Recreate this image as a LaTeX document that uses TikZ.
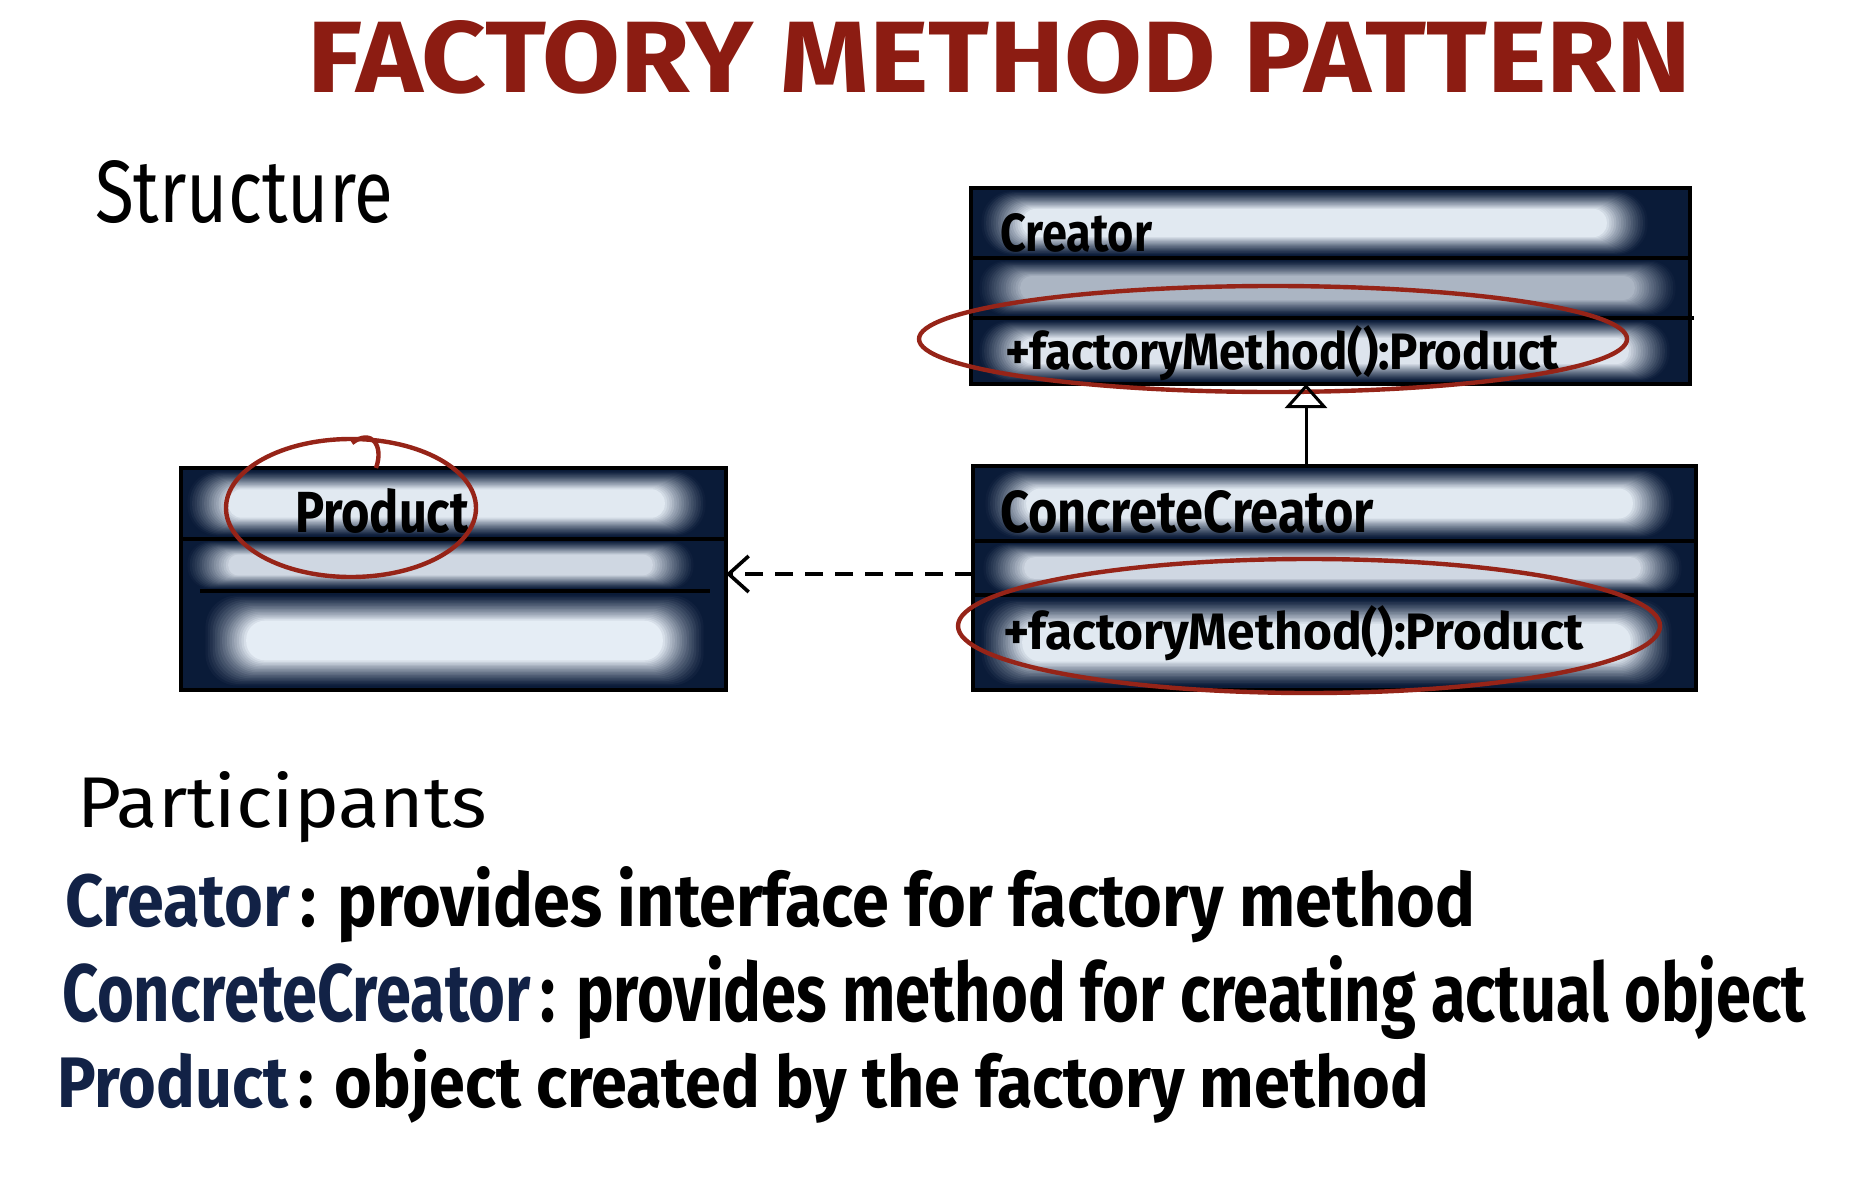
\documentclass[tikz,border=0pt]{standalone}
\usepackage{fontspec}
\setmainfont{Fira Sans}
\usetikzlibrary{arrows.meta}
\definecolor{titlered}{RGB}{140,28,18}
\definecolor{inkred}{RGB}{150,36,24}
\definecolor{boxnavy}{RGB}{10,27,56}
\definecolor{glow}{RGB}{234,241,249}
\definecolor{namenavy}{RGB}{18,34,70}
% #1 left #2 top #3 right #4 bottom #5 max percent #6 left inset #7 right inset
\newcommand\glowrow[7]{%
  \foreach \k in {0,...,18}{%
    \pgfmathtruncatemacro\pc{#5*(\k/18)^1.2}%
    \pgfmathsetmacro\hh{#4-#2}%
    \pgfmathsetmacro\vi{\hh*(0.03+0.015*\k)}%
    \pgfmathsetmacro\li{#6+2.4*\k}%
    \pgfmathsetmacro\ri{#7+2.4*\k}%
    \pgfmathsetmacro\rc{min(16,(\hh-2*\vi)/4*0.95)}%
    \fill[glow!\pc!boxnavy, rounded corners=\rc pt] (#1+\li,#2+\vi) rectangle (#3-\ri,#4-\vi);
  }}
\begin{document}
\begin{tikzpicture}[x=0.5pt,y=-0.5pt,
  txt/.style={anchor=base west, inner sep=0pt, outer sep=0pt},
  umlbox/.style={rectangle, fill=boxnavy, inner sep=0pt, outer sep=0pt, anchor=north west},
  outline/.style={draw=black, line width=1.6pt},
  divider/.style={draw=black, line width=1.6pt},
  redink/.style={draw=inkred, line width=2.2pt},
  inherit/.style={draw=black, line width=1.5pt, -{Triangle[open, width=21pt, length=12pt, line width=1.5pt]}},
  depend/.style={draw=black, line width=1.6pt, dash pattern=on 9pt off 6pt, -{Straight Barb[width=18pt, length=10pt, line width=1.8pt]}}]
\useasboundingbox (0,0) rectangle (1866,1198);
\fill[white] (0,0) rectangle (1866,1198);

% title and headings
\node[txt, text=titlered] (title) at (307,93) {\resizebox{692pt}{36pt}{\bfseries FACTORY METHOD PATTERN}};
\node[txt] (structure) at (95,222) {\resizebox{149pt}{31pt}{Structure}};

% Creator box
\node[umlbox, minimum width=359.5pt, minimum height=98pt] (creator) at (971,188) {};
\glowrow{971}{188}{1690}{258}{96}{8}{40}
\glowrow{971}{258}{1690}{318}{72}{6}{12}
\glowrow{971}{318}{1690}{384}{94}{6}{18}
\draw[divider] (971,258) -- (1690,258);
\draw[divider] (971,318) -- (1694,318);
\draw[outline] (creator.north west) rectangle (creator.south east);
\node[txt] (creatorname) at (1000,252) {\resizebox{76pt}{19pt}{\bfseries Creator}};
\node[txt] (creatorop) at (1005,369) {\resizebox{277pt}{22pt}{\bfseries +factoryMethod():Product}};

% ConcreteCreator box
\node[umlbox, minimum width=361.5pt, minimum height=112pt] (concrete) at (973,466) {};
\glowrow{973}{466}{1696}{541}{96}{10}{20}
\glowrow{973}{541}{1696}{595}{88}{8}{12}
\glowrow{973}{595}{1696}{690}{96}{6}{22}
\draw[divider] (973,541) -- (1696,541);
\draw[divider] (973,595) -- (1696,595);
\draw[outline] (concrete.north west) rectangle (concrete.south east);
\node[txt] (concretename) at (1000,532) {\resizebox{187pt}{21pt}{\bfseries ConcreteCreator}};
\node[txt] (concreteop) at (1003,649) {\resizebox{290pt}{22pt}{\bfseries +factoryMethod():Product}};

% Product box
\node[umlbox, minimum width=272.5pt, minimum height=111pt] (product) at (181,468) {};
\glowrow{181}{468}{726}{539}{96}{4}{18}
\glowrow{181}{539}{726}{591}{88}{4}{30}
\glowrow{181}{591}{726}{690}{98}{22}{20}
\draw[divider] (181,539) -- (726,539);
\draw[divider] (200,591) -- (710,591);
\draw[outline] (product.north west) rectangle (product.south east);
\node[txt] (productname) at (295,532) {\resizebox{87pt}{22pt}{\bfseries Product}};

% red highlight ellipses
\draw[redink] (1273,339) ellipse [x radius=354, y radius=53];
\draw[redink] (1309,626) ellipse [x radius=351, y radius=67];
\draw[redink] (351,508) ellipse [x radius=125, y radius=69];
\draw[redink] (352,443) .. controls (372,428) and (384,446) .. (376,468);

% connectors
\coordinate (ax) at (1306,0);
\coordinate (dy) at (0,574);
\draw[inherit] (ax |- concrete.north) -- (ax |- creator.south);
\draw[depend] (dy -| concrete.west) -- (dy -| product.east);

% participants
\node[txt] (participants) at (77,827) {\resizebox{205pt}{28pt}{Participants}};
\node[txt] (line1) at (65,926) {\resizebox{705pt}{30pt}{\bfseries\textcolor{namenavy}{Creator}\,: provides interface for factory method}};
\node[txt] (line2) at (62,1021) {\resizebox{872pt}{33pt}{\bfseries\textcolor{namenavy}{ConcreteCreator}\,: provides method for creating actual object}};
\node[txt] (line3) at (57,1107) {\resizebox{686pt}{29pt}{\bfseries\textcolor{namenavy}{Product}\,: object created by the factory method}};
\end{tikzpicture}
\end{document}
